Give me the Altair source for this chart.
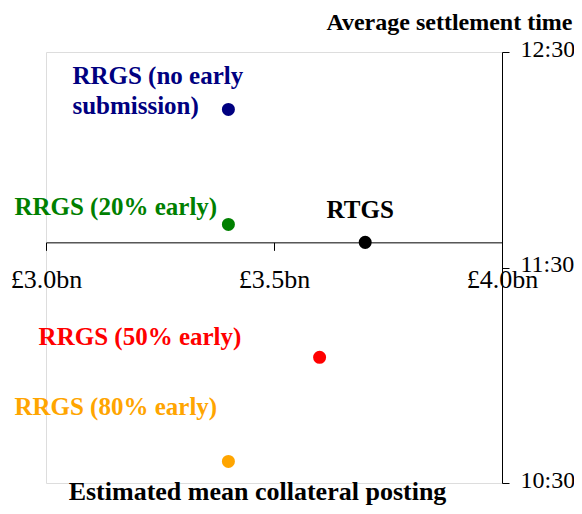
import altair as alt
import pandas as pd

# ---- data ----
series = ["RRGS (no early submission)", "RRGS (20% early)", "RTGS",
          "RRGS (50% early)", "RRGS (80% early)"]
collateral_bn = [3.4, 3.4, 3.7, 3.6, 3.4]
settle_time = ["12:14", "11:42", "11:37", "11:05", "10:36"]
colors = ["#000080", "#008000", "#000000", "#FF0000", "#FFA500"]

x_ticks = [3.0, 3.5, 4.0]
y_ticks = ["10:30", "11:30", "12:30"]


def to_min(t):
    h, m = t.split(":")
    return int(h) * 60 + int(m)


df = pd.DataFrame({
    "series": series,
    "x": collateral_bn,
    "y": [to_min(t) for t in settle_time],
    "color": colors,
})

FONT = "Liberation Serif"
y_tick_vals = [to_min(t) for t in y_ticks]
cross_y = to_min("11:37")

W, H = 456, 431
x_scale = alt.Scale(domain=[3.0, 4.0], nice=False, zero=False)
y_scale = alt.Scale(domain=[y_tick_vals[0], y_tick_vals[-1]], nice=False, zero=False)

offset_px = -(H - (y_tick_vals[-1] - cross_y) / (y_tick_vals[-1] - y_tick_vals[0]) * H)

x_axis = alt.Axis(
    values=x_ticks, orient="bottom", offset=offset_px,
    labelExpr="'£' + format(datum.value, '.1f') + 'bn'",
    title="Estimated mean collateral posting",
    titleX=211, titleY=257, titleAlign="center", titleBaseline="alphabetic",
    titleAngle=0, titleFontSize=26, titleFont=FONT, titleFontWeight="bold",
    labelFont=FONT, labelFontSize=26, labelPadding=16, tickSize=8,
    grid=False, domainColor="black", tickColor="black", labelColor="black",
    titleColor="black", labelFlush=False, labelOverlap=False,
)
y_axis = alt.Axis(
    values=y_tick_vals, orient="right",
    labelExpr="floor(datum.value/60) + ':' + (datum.value % 60 < 10 ? '0' : '') + (datum.value % 60)",
    title="Average settlement time",
    titleX=70, titleY=-23, titleAlign="right", titleBaseline="alphabetic",
    titleAngle=0, titleFontSize=24, titleFont=FONT, titleFontWeight="bold",
    labelFont=FONT, labelFontSize=24, labelPadding=11, labelOffset=-3, tickSize=7,
    grid=False, domainColor="black", tickColor="black", labelColor="black",
    titleColor="black", labelFlush=False, labelOverlap=False,
)

base = alt.Chart(df)
points = base.mark_circle(size=170, opacity=1).encode(
    x=alt.X("x:Q", scale=x_scale, axis=x_axis),
    y=alt.Y("y:Q", scale=y_scale, axis=y_axis),
    color=alt.Color("color:N", scale=None),
)

# label lines per series, with pixel offsets from their point (styling only)
label_lines = {
    "RRGS (no early submission)": [("RRGS (no early", -156, -33, "left"),
                                   ("submission)", -156, -3, "left")],
    "RRGS (20% early)": [("RRGS (20% early)", -214, -17, "left")],
    "RTGS": [("RTGS", -5, -32, "center")],
    "RRGS (50% early)": [("RRGS (50% early)", -281, -20, "left")],
    "RRGS (80% early)": [("RRGS (80% early)", -214, -54, "left")],
}

layers = [points]
for s, col in zip(series, colors):
    for txt, dx, dy, al in label_lines[s]:
        layers.append(
            base.transform_filter(alt.datum.series == s).mark_text(
                text=txt, dx=dx, dy=dy, align=al, baseline="middle",
                font=FONT, fontSize=25, fontWeight="bold", color=col,
            ).encode(x=alt.X("x:Q", scale=x_scale), y=alt.Y("y:Q", scale=y_scale))
        )

chart = alt.layer(*layers).properties(
    width=W, height=H,
    autosize=alt.AutoSizeParams(type="none"),
    padding={"left": 38, "top": 44, "right": 72, "bottom": 23},
).configure_view(stroke=None).configure(background="white")

chart.save("out.html", embed_options={"renderer": "svg", "actions": False})
